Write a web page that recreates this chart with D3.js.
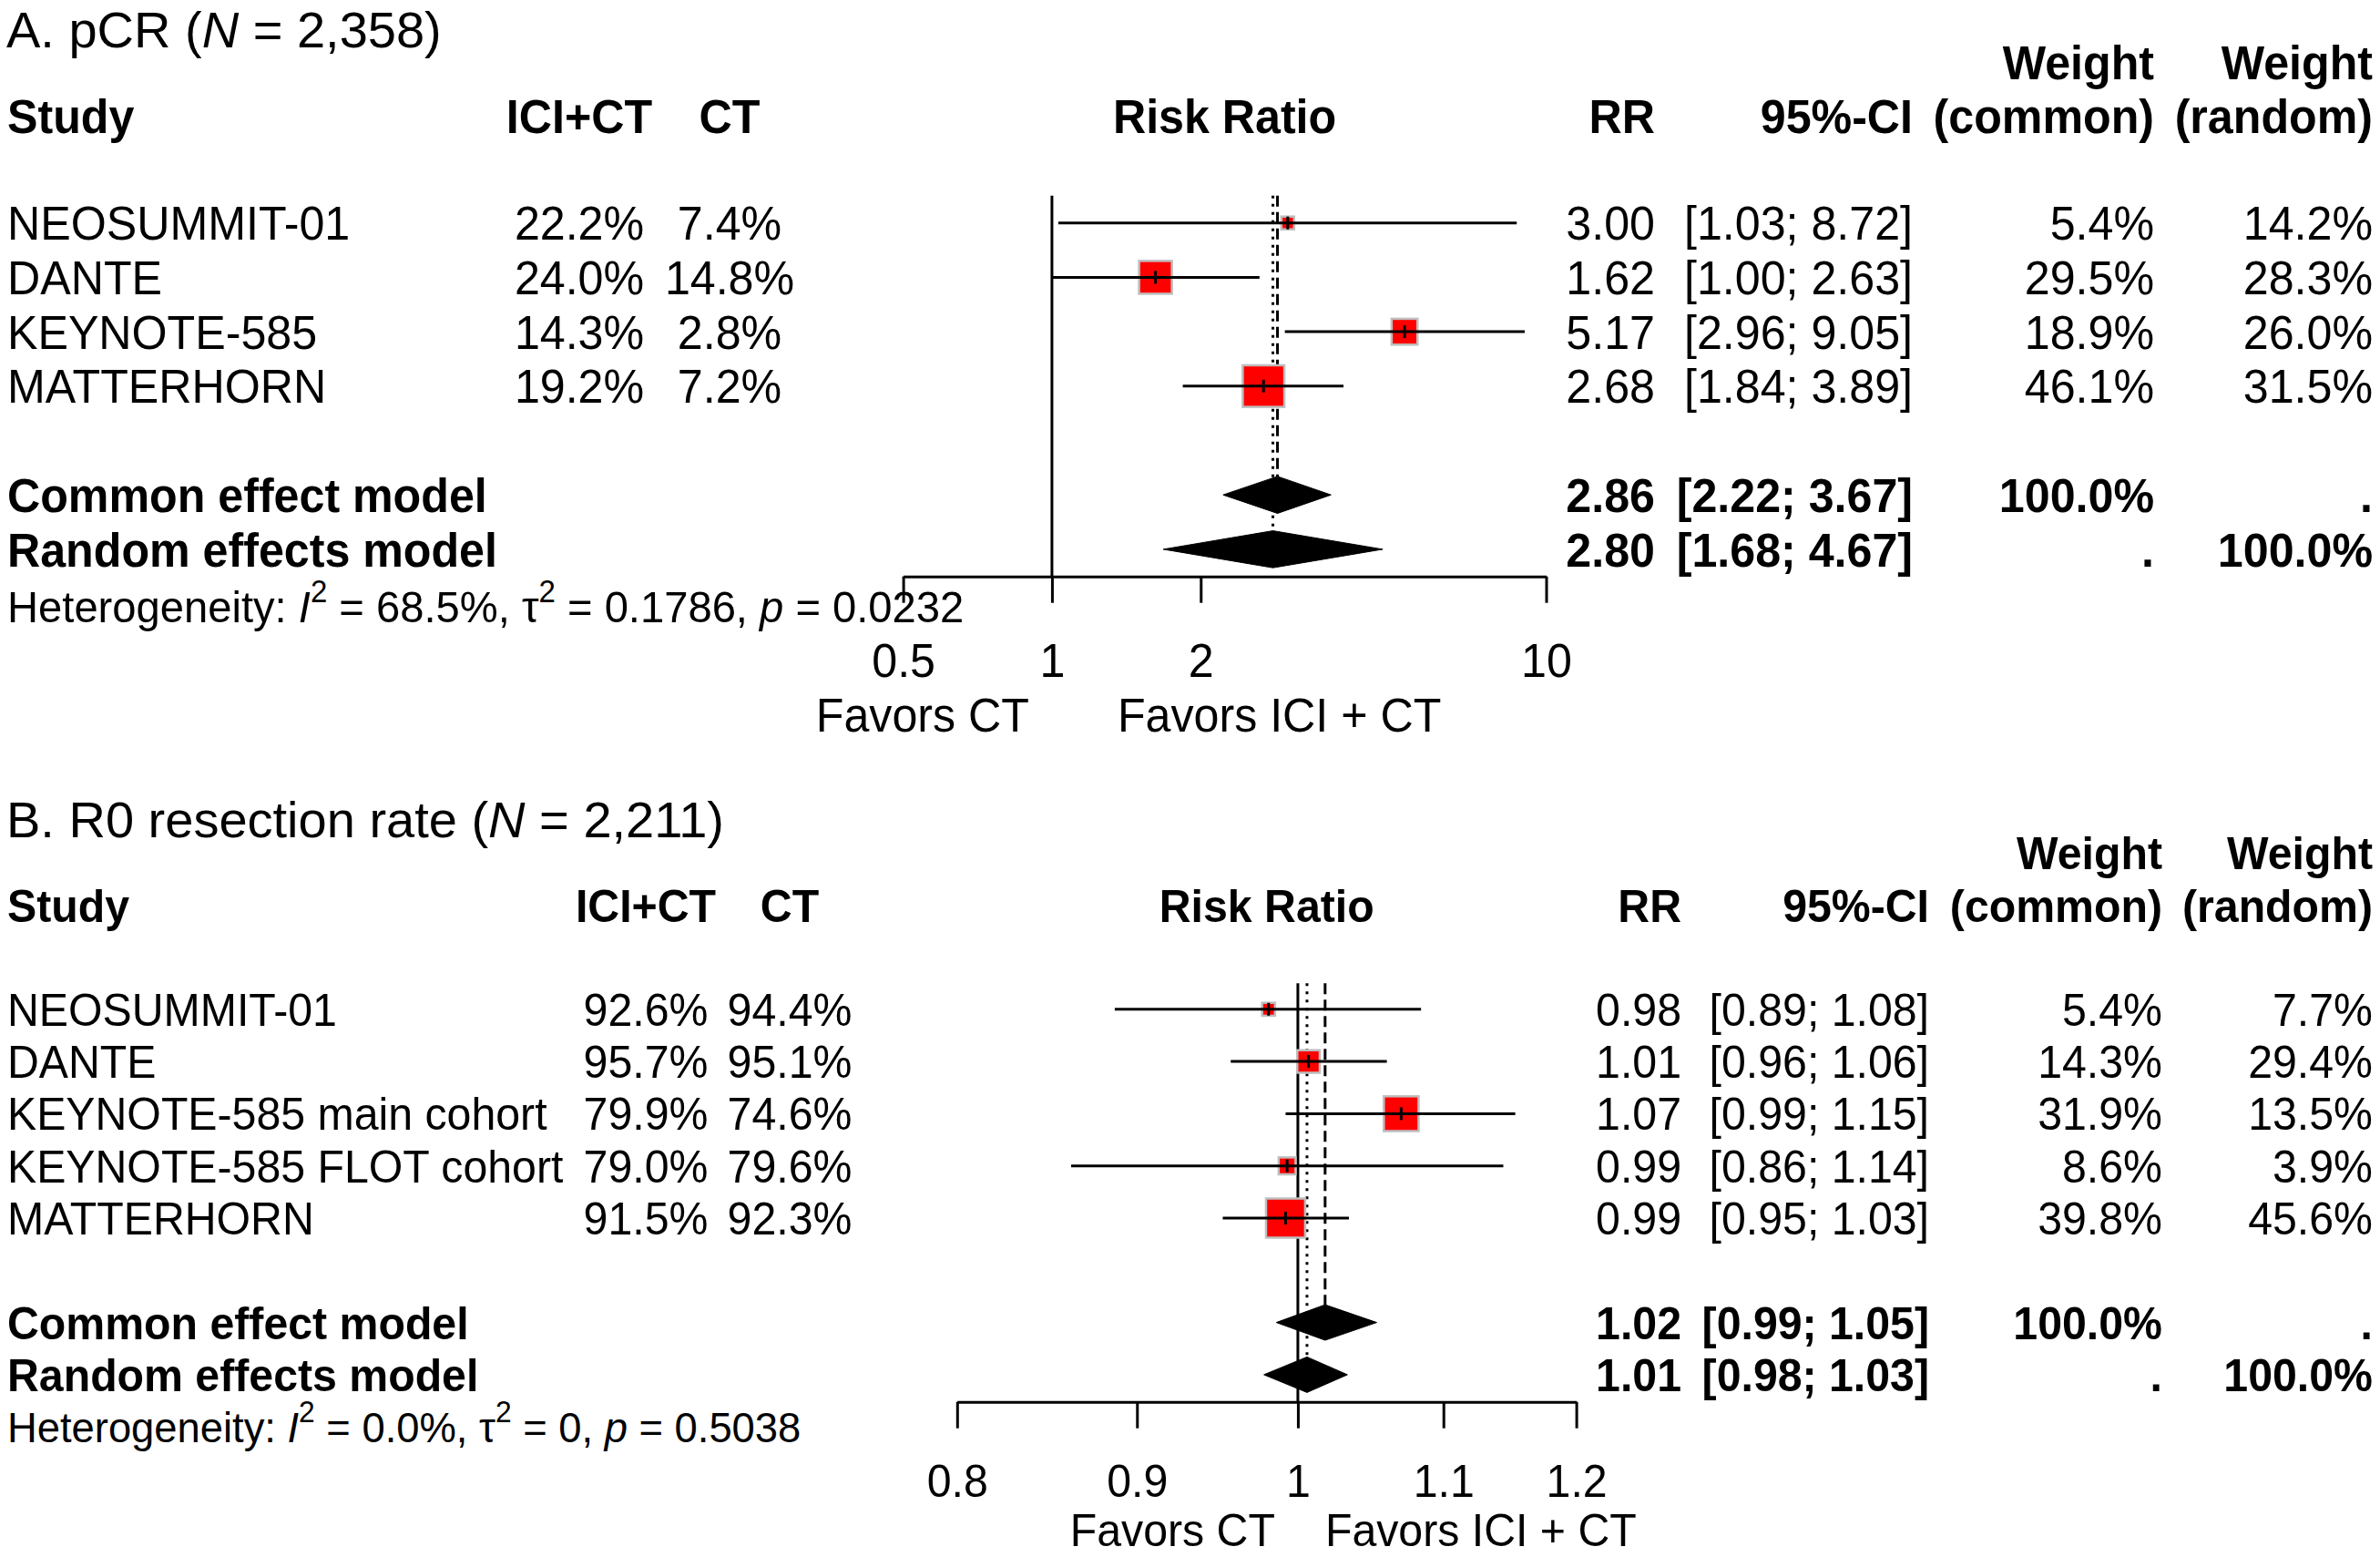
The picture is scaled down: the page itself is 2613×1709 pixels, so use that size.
<!DOCTYPE html>
<html>
<head>
<meta charset="utf-8">
<script src="https://cdn.jsdelivr.net/npm/d3@7"></script>
<style>
  body { margin: 0; background: #fff; }
  text { font-family: "Liberation Sans", Arial, sans-serif; fill: #000; }
</style>
</head>
<body>
<script>
// ---- panel A: pCR ----
var titleA = "A. pCR", nA = "2,358";
var studiesA = ["NEOSUMMIT-01", "DANTE", "KEYNOTE-585", "MATTERHORN"];
var iciA = ["22.2%", "24.0%", "14.3%", "19.2%"];
var ctA = ["7.4%", "14.8%", "2.8%", "7.2%"];
var rrA = [3.00, 1.62, 5.17, 2.68];
var loA = [1.03, 1.00, 2.96, 1.84];
var hiA = [8.72, 2.63, 9.05, 3.89];
var wCommonA = [5.4, 29.5, 18.9, 46.1];
var wRandomA = [14.2, 28.3, 26.0, 31.5];
var commonA = [2.86, 2.22, 3.67];   // est, lower, upper
var randomA = [2.80, 1.68, 4.67];
var hetA = ["68.5%", "0.1786", "0.0232"];   // I2, tau2, p
var ticksA = [0.5, 1, 2, 10];

// ---- panel B: R0 resection ----
var titleB = "B. R0 resection rate", nB = "2,211";
var studiesB = ["NEOSUMMIT-01", "DANTE", "KEYNOTE-585 main cohort", "KEYNOTE-585 FLOT cohort", "MATTERHORN"];
var iciB = ["92.6%", "95.7%", "79.9%", "79.0%", "91.5%"];
var ctB = ["94.4%", "95.1%", "74.6%", "79.6%", "92.3%"];
var rrB = [0.981, 1.007, 1.070, 0.993, 0.992];
var loB = [0.887, 0.957, 0.992, 0.862, 0.952];
var hiB = [1.084, 1.060, 1.153, 1.144, 1.034];
var wCommonB = [5.4, 14.3, 31.9, 8.6, 39.8];
var wRandomB = [7.7, 29.4, 13.5, 3.9, 45.6];
var commonB = [1.018, 0.986, 1.053];
var randomB = [1.006, 0.978, 1.033];
var hetB = ["0.0%", "0", "0.5038"];
var ticksB = [0.8, 0.9, 1, 1.1, 1.2];

var width = 2613, height = 1709;

var svg = d3.select("body")
            .append("svg")
            .attr("width", width)
            .attr("height", height);

var fmt2 = d3.format(".2f"),
    fmtW = d3.format(".1f"),
    fmtTick = d3.format("~g");

// text with a slight horizontal squeeze like the original R output
function label(g, x, y, s, c, o) {
    o = o || {};
    var fs = o.fs || c.fs;
    var sx = o.sx != null ? o.sx : c.sx;
    var t = g.append("text")
             .attr("transform", "translate(" + x + "," + (y + 0.358 * fs) + ") scale(" + sx + ",1)")
             .attr("text-anchor", o.anchor || "start")
             .style("font-size", fs + "px");
    if (o.bold) t.style("font-weight", "bold");
    if (s != null) t.text(s);
    return t;
}

function rich(t, parts, fs) {
    var up = false;
    parts.forEach(function(p) {
        var sp = t.append("tspan").text(p[0]);
        if (p[1] === "i") sp.style("font-style", "italic");
        if (p[1] === "sup") {
            sp.style("font-size", (fs * 0.7) + "px").attr("dy", -0.46 * fs);
            up = true;
        } else if (up) {
            sp.attr("dy", 0.46 * fs);
            up = false;
        }
    });
}

function drawPanel(d, c) {
    var g = svg.append("g");
    var n = d.studies.length;

    var x = d3.scaleLog().domain([d.ticks[0], d.ticks[d.ticks.length - 1]]).range(c.xRange);
    var y = d3.scaleLinear().domain([0, 1]).range([c.y0, c.y0 + c.dy]);
    var side = d3.scaleSqrt().domain([0, 100]).range([0, c.sqMax]);

    var yCommon = y(n + 1), yRandom = y(n + 2), yHet = y(n + 3);
    var dh = 0.34 * c.dy;
    var top = y(-0.5);

    // title
    var tt = label(g, 7, c.yTitle, null, c, {fs: 56, sx: 1});
    rich(tt, [[d.title + " (", ""], ["N", "i"], [" = " + d.n + ")", ""]], 56);

    // header
    label(g, c.xStudy, c.yHead, "Study", c, {bold: true});
    label(g, c.xIci, c.yHead, "ICI+CT", c, {bold: true, anchor: "middle"});
    label(g, c.xCt, c.yHead, "CT", c, {bold: true, anchor: "middle"});
    label(g, (c.xRange[0] + c.xRange[1]) / 2, c.yHead, "Risk Ratio", c, {bold: true, anchor: "middle"});
    label(g, c.xRR, c.yHead, "RR", c, {bold: true, anchor: "end"});
    label(g, c.xCI, c.yHead, "95%-CI", c, {bold: true, anchor: "end"});
    label(g, c.xWc, c.yWeight, "Weight", c, {bold: true, anchor: "end"});
    label(g, c.xWc, c.yHead, "(common)", c, {bold: true, anchor: "end"});
    label(g, c.xWr, c.yWeight, "Weight", c, {bold: true, anchor: "end"});
    label(g, c.xWr, c.yHead, "(random)", c, {bold: true, anchor: "end"});

    // study rows
    d.studies.forEach(function(s, i) {
        var yy = y(i);
        label(g, c.xStudy, yy, s, c);
        label(g, c.xIci, yy, d.ici[i], c, {anchor: "middle"});
        label(g, c.xCt, yy, d.ct[i], c, {anchor: "middle"});
        label(g, c.xRR, yy, fmt2(d.est[i]), c, {anchor: "end"});
        label(g, c.xCI, yy, "[" + fmt2(d.lo[i]) + "; " + fmt2(d.hi[i]) + "]", c, {anchor: "end"});
        label(g, c.xWc, yy, fmtW(d.wc[i]) + "%", c, {anchor: "end"});
        label(g, c.xWr, yy, fmtW(d.wr[i]) + "%", c, {anchor: "end"});
    });

    // pooled rows
    [[yCommon, "Common effect model", d.common, "100.0%", "."],
     [yRandom, "Random effects model", d.random, ".", "100.0%"]].forEach(function(r) {
        label(g, c.xStudy, r[0], r[1], c, {bold: true});
        label(g, c.xRR, r[0], fmt2(r[2][0]), c, {bold: true, anchor: "end"});
        label(g, c.xCI, r[0], "[" + fmt2(r[2][1]) + "; " + fmt2(r[2][2]) + "]", c, {bold: true, anchor: "end"});
        label(g, c.xWc, r[0], r[3], c, {bold: true, anchor: "end"});
        label(g, c.xWr, r[0], r[4], c, {bold: true, anchor: "end"});
    });

    // heterogeneity
    var hfs = c.fs * 0.94;
    var ht = label(g, c.xStudy, yHet + c.hetShift, null, c, {fs: hfs});
    rich(ht, [["Heterogeneity: ", ""], ["I", "i"], ["2", "sup"], [" = " + d.het[0] + ", ", ""],
              ["\u03C4", ""], ["2", "sup"], [" = " + d.het[1] + ", ", ""], ["p", "i"], [" = " + d.het[2], ""]], hfs);

    // reference and pooled lines
    g.append("line")
     .attr("x1", x(1)).attr("x2", x(1))
     .attr("y1", top).attr("y2", c.yAxis)
     .attr("stroke", "#000").attr("stroke-width", 3);
    g.append("line")
     .attr("x1", x(d.common[0])).attr("x2", x(d.common[0]))
     .attr("y1", top).attr("y2", yCommon - dh)
     .attr("stroke", "#000").attr("stroke-width", 3)
     .attr("stroke-dasharray", "12,6");
    g.append("line")
     .attr("x1", x(d.random[0])).attr("x2", x(d.random[0]))
     .attr("y1", top).attr("y2", yRandom - dh)
     .attr("stroke", "#000").attr("stroke-width", 3)
     .attr("stroke-dasharray", "3,6");

    // squares
    g.selectAll("rect.sq")
     .data(d.est)
     .enter()
     .append("rect")
        .attr("class", "sq")
        .attr("x", function(e, i) { return x(e) - side(d.wc[i]) / 2 + 1.25; })
        .attr("y", function(e, i) { return y(i) - side(d.wc[i]) / 2 + 1.25; })
        .attr("width", function(e, i) { return side(d.wc[i]) - 2.5; })
        .attr("height", function(e, i) { return side(d.wc[i]) - 2.5; })
        .attr("fill", "#ff0000")
        .attr("stroke", "#bebebe")
        .attr("stroke-width", 2.5);

    // confidence intervals
    g.selectAll("line.ci")
     .data(d.est)
     .enter()
     .append("line")
        .attr("class", "ci")
        .attr("x1", function(e, i) { return x(d.lo[i]); })
        .attr("x2", function(e, i) { return x(d.hi[i]); })
        .attr("y1", function(e, i) { return y(i); })
        .attr("y2", function(e, i) { return y(i); })
        .attr("stroke", "#000").attr("stroke-width", 3);

    g.selectAll("line.mid")
     .data(d.est)
     .enter()
     .append("line")
        .attr("class", "mid")
        .attr("x1", function(e) { return x(e); })
        .attr("x2", function(e) { return x(e); })
        .attr("y1", function(e, i) { return y(i) - 7; })
        .attr("y2", function(e, i) { return y(i) + 7; })
        .attr("stroke", "#000").attr("stroke-width", 3);

    // diamonds
    [[d.common, yCommon], [d.random, yRandom]].forEach(function(p) {
        var v = p[0], yy = p[1];
        g.append("path")
         .attr("d", "M" + x(v[1]) + "," + yy + "L" + x(v[0]) + "," + (yy - dh) +
                    "L" + x(v[2]) + "," + yy + "L" + x(v[0]) + "," + (yy + dh) + "Z")
         .attr("fill", "#000").attr("stroke", "#000").attr("stroke-width", 1);
    });

    // axis
    var ax = g.append("g")
              .attr("transform", "translate(0," + c.yAxis + ")")
              .call(d3.axisBottom(x).tickValues(d.ticks).tickFormat(fmtTick)
                      .tickSize(29).tickSizeOuter(0))
              .attr("font-size", null).attr("font-family", null);
    ax.select(".domain").attr("stroke", "#000").attr("stroke-width", 3);
    ax.selectAll(".tick line").attr("stroke", "#000").attr("stroke-width", 3);
    ax.selectAll(".tick text")
      .attr("fill", "#000")
      .attr("y", c.yTickLab - c.yAxis + 0.358 * c.fs)
      .attr("dy", null)
      .attr("transform", "scale(" + c.sx + ",1)")
      .style("font-size", c.fs + "px");

    label(g, x(1) - 25, c.yFavors, "Favors CT", c, {anchor: "end"});
    label(g, x(1) + c.favRight, c.yFavors, "Favors ICI + CT", c);
}

drawPanel(
    {title: titleA, n: nA, studies: studiesA, ici: iciA, ct: ctA, est: rrA, lo: loA, hi: hiA,
     wc: wCommonA, wr: wRandomA, common: commonA, random: randomA, het: hetA, ticks: ticksA},
    {fs: 52, sx: 0.965, yTitle: 32, yWeight: 68, yHead: 127, y0: 244.7, dy: 59.7, hetShift: 3,
     yAxis: 632.7, xRange: [991.6, 1697.5], xStudy: 8, xIci: 636, xCt: 801,
     xRR: 1817, xCI: 2100, xWc: 2365, xWr: 2605, yTickLab: 724, yFavors: 784,
     favRight: 72, sqMax: 71}
);

drawPanel(
    {title: titleB, n: nB, studies: studiesB, ici: iciB, ct: ctB, est: rrB, lo: loB, hi: hiB,
     wc: wCommonB, wr: wRandomB, common: commonB, random: randomB, het: hetB, ticks: ticksB},
    {fs: 50, sx: 0.965, yTitle: 899, yWeight: 936, yHead: 994, y0: 1107.8, dy: 57.3, hetShift: 0,
     yAxis: 1538.7, xRange: [1050.8, 1730.6], xStudy: 8, xIci: 709, xCt: 867,
     xRR: 1846, xCI: 2118, xWc: 2374, xWr: 2605, yTickLab: 1625, yFavors: 1679,
     favRight: 30, sqMax: 72}
);
</script>
</body>
</html>
